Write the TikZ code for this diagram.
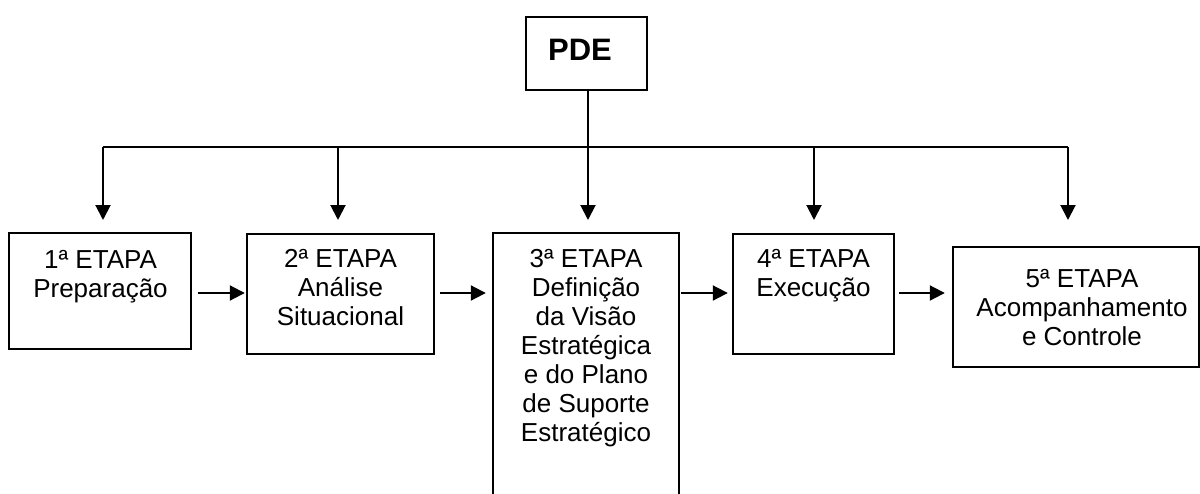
\documentclass[tikz,border=0pt]{standalone}
\usepackage{fontspec}
\setmainfont{Liberation Sans}
\usetikzlibrary{arrows.meta}
\tikzset{
  boxshape/.style={draw=black, line width=2.4pt, rectangle, inner sep=0pt},
  boxtext/.style={font=\fontsize{26}{29}\selectfont, align=center, anchor=north, inner sep=0pt},
  conn/.style={draw=black, line width=2pt},
  arr/.style={conn, -{Triangle[length=15pt,width=15pt]}}
}
\begin{document}
\begin{tikzpicture}[x=1pt,y=-1pt]
\useasboundingbox (0,0) rectangle (1200,493);
\clip (0,0) rectangle (1200,493);
\fill[white] (0,0) rectangle (1200,493);
% PDE
\node[boxshape, minimum width=121pt, minimum height=73pt] (pde) at (586.5,53.5) {};
\node[font=\fontsize{31}{34}\bfseries\selectfont, anchor=base, inner sep=0pt] (pdet) at (580,60) {PDE};
% boxes
\node[boxshape, minimum width=182pt, minimum height=116pt] (b1) at (100,291) {};
\node[boxshape, minimum width=187pt, minimum height=120pt] (b2) at (340.5,294) {};
\node[boxshape, minimum width=186pt, minimum height=300pt] (b3) at (586,383) {};
\node[boxshape, minimum width=161pt, minimum height=120pt] (b4) at (813.5,294) {};
\node[boxshape, minimum width=246pt, minimum height=120pt] (b5) at (1076,307) {};
% texts
\node[boxtext] (t1) at (100.5,250) {1ª ETAPA\\Preparação};
\node[boxtext] (t2) at (340.5,249) {2ª ETAPA\\Análise\\Situacional};
\node[boxtext] (t3) at (586,249) {3ª ETAPA\\Definição\\da Visão\\Estratégica\\e do Plano\\de Suporte\\Estratégico};
\node[boxtext] (t4) at (813.5,249) {4ª ETAPA\\Execução};
\node[boxtext] (t5) at (1082,269) {5ª ETAPA\\Acompanhamento\\e Controle};
% tree connectors
\coordinate (j) at (588,147);
\coordinate (l) at (103,147);
\coordinate (r) at (1068,147);
\coordinate (j2) at (338,147);
\coordinate (j4) at (814,147);
\draw[conn] (pde.south -| j) -- (j);
\draw[conn] (l) -- (r);
\draw[arr] (l) -- (l |- 0,220);
\draw[arr] (j2) -- (j2 |- 0,220);
\draw[arr] (j) -- (j |- 0,220);
\draw[arr] (j4) -- (j4 |- 0,220);
\draw[arr] (r) -- (r |- 0,220);
% horizontal arrows
\draw[arr, shorten <=6pt, shorten >=1pt] (b1.east |- 0,293) -- (b2.west |- 0,293);
\draw[arr, shorten <=5pt, shorten >=6pt] (b2.east |- 0,293) -- (b3.west |- 0,293);
\draw[arr, shorten <=1pt, shorten >=4pt] (b3.east |- 0,293) -- (b4.west |- 0,293);
\draw[arr, shorten <=4pt, shorten >=7pt] (b4.east |- 0,293) -- (b5.west |- 0,293);
\end{tikzpicture}
\end{document}
